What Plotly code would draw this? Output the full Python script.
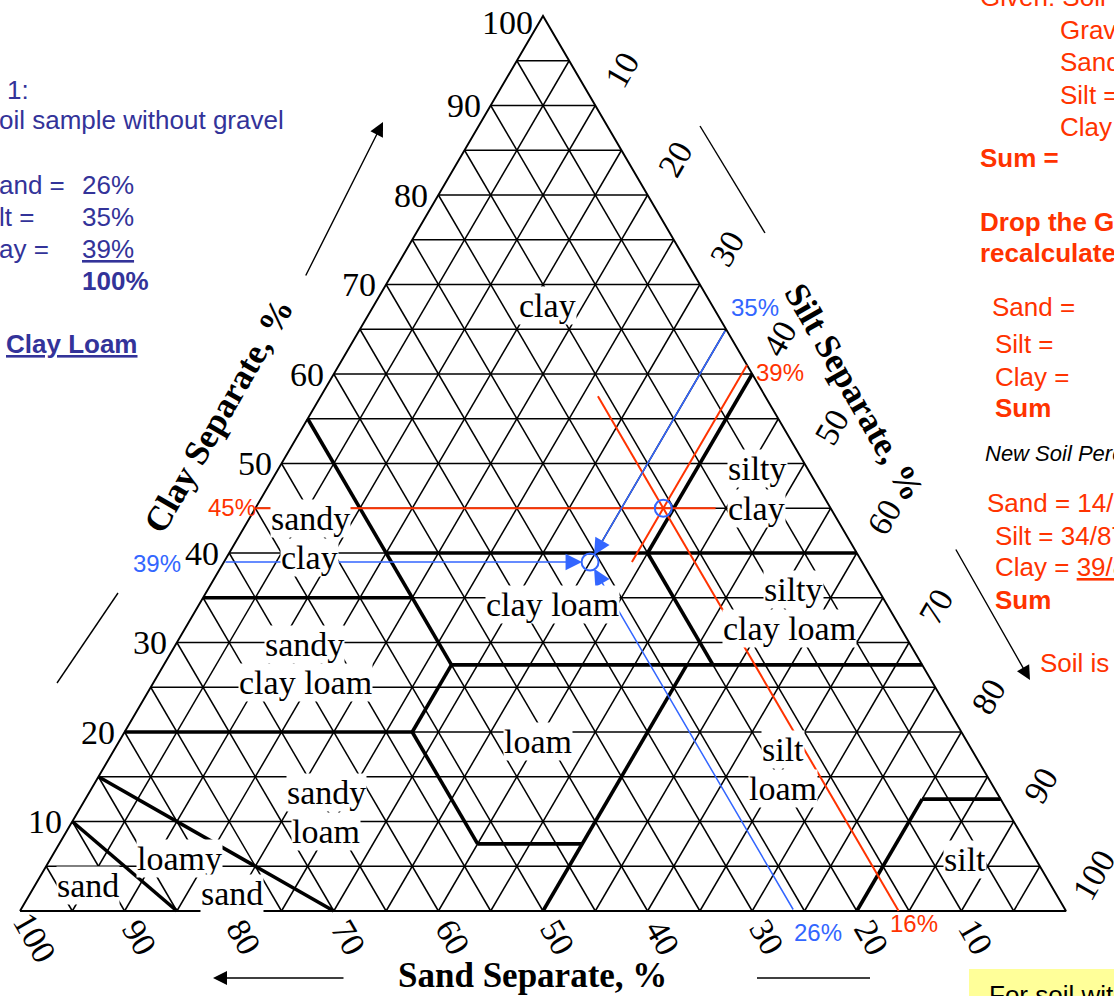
import plotly.graph_objects as go

# ---------------- data ----------------
tick_values = [10, 20, 30, 40, 50, 60, 70, 80, 90, 100]
grid_levels = [5, 10, 15, 20, 25, 30, 35, 40, 45, 50, 55, 60, 65, 70, 75, 80, 85, 90, 95]

# texture-class boundaries, each as a list of (clay %, silt %) vertices
boundary_clay = [[55, 27.5], [40, 40], [40, 60], [35, 35], [27.5, 27.5], [40, 27.5],
                 [27.5, 20], [20, 20], [20, 7.5], [7.5, 7.5], [0, 27.5], [0, 12.5],
                 [12.5, 12.5], [15, 0], [10, 0]]
boundary_silt = [[0, 27.5], [15, 60], [40, 40], [0, 20], [27.5, 72.5], [40, 52.5],
                 [27.5, 27.5], [0, 27.5], [27.5, 40], [40, 50], [50, 50], [80, 80],
                 [80, 87.5], [0, 30], [0, 15]]

# class names and their (clay %, silt %) positions
class_names = ["clay", "sandy", "clay", "silty", "clay", "clay loam", "silty", "clay loam",
               "sandy", "clay loam", "loam", "silt", "loam", "sandy", "loam", "loamy",
               "sand", "sand", "silt"]
class_clay = [67.7, 43.9, 39.55, 49.4, 45.0, 34.2, 35.9, 31.6, 29.8, 25.5, 18.9, 18.1,
              13.7, 13.2, 8.9, 5.9, 2.0, 2.8, 5.7]
class_silt = [16.6, 5.8, 7.9, 45.8, 47.9, 33.8, 56.0, 57.8, 12.3, 14.5, 40.1, 63.9,
              66.1, 22.7, 24.8, 12.3, 19.3, 5.1, 87.5]

# sample without gravel (blue) and gravel-corrected sample (red)
sample = {"sand": 26, "silt": 35, "clay": 39}
corrected = {"sand": 16, "silt": 39, "clay": 45}
red_clay_line_silt_end = 44
red_silt_line_clay_end = 39
red_sand_line_clay_end = 57.5

BLUE = "#3366FF"
RED = "#FF3300"
NAVY = "#333399"
SERIF = "Liberation Serif"
SANS = "Liberation Sans"

W, H = 1114, 996
# pixel placement of the triangle (left vertex x, base y, width, height)
LX, BY, TW, TH = 20.0, 911.0, 1046.0, 895.0


def to_xy(clay, silt):
    return silt + clay / 2.0, clay


def P(px, py):
    return px / W, 1 - py / H


fig = go.Figure()

# ---------------- grid ----------------
gx, gy = [], []
for v in grid_levels:
    for a, b in [((v, 0), (v, 100 - v)),          # constant clay
                 ((0, v), (100 - v, v)),          # constant silt
                 ((0, 100 - v), (100 - v, 0))]:   # constant sand
        x0, y0 = to_xy(*a)
        x1, y1 = to_xy(*b)
        gx += [x0, x1, None]
        gy += [y0, y1, None]
fig.add_trace(go.Scatter(x=gx, y=gy, mode="lines", line=dict(color="black", width=1.5),
                         hoverinfo="skip"))

# outline
ox, oy = zip(*[to_xy(0, 0), to_xy(100, 0), to_xy(0, 100), to_xy(0, 0)])
fig.add_trace(go.Scatter(x=ox, y=oy, mode="lines", line=dict(color="black", width=1.9),
                         hoverinfo="skip"))

# boundaries
bx, by = [], []
for cl, si in zip(boundary_clay, boundary_silt):
    for c, s in zip(cl, si):
        x, y = to_xy(c, s)
        bx.append(x)
        by.append(y)
    bx.append(None)
    by.append(None)
fig.add_trace(go.Scatter(x=bx, y=by, mode="lines", line=dict(color="black", width=3.6),
                         hoverinfo="skip"))

# red construction lines
c, s, d = corrected["clay"], corrected["silt"], corrected["sand"]
rl = [(to_xy(c, 0), to_xy(c, red_clay_line_silt_end)),
      (to_xy(100 - s, s), to_xy(red_silt_line_clay_end, s)),
      (to_xy(0, 100 - d), to_xy(red_sand_line_clay_end, 100 - d - red_sand_line_clay_end))]
rx, ry = [], []
for (a, b) in rl:
    rx += [a[0], b[0], None]
    ry += [a[1], b[1], None]
fig.add_trace(go.Scatter(x=rx, y=ry, mode="lines", line=dict(color=RED, width=2),
                         hoverinfo="skip"))

# points (open circles)
pts = [to_xy(sample["clay"], sample["silt"]), to_xy(corrected["clay"], corrected["silt"])]
fig.add_trace(go.Scatter(x=[p[0] for p in pts], y=[p[1] for p in pts], mode="markers",
                         marker=dict(symbol="circle-open", size=17, color=BLUE,
                                     line=dict(width=2, color=BLUE)),
                         hoverinfo="skip"))

ann = []

# blue arrows from the three axes to the sample point
sp = to_xy(sample["clay"], sample["silt"])
tails = [to_xy(sample["clay"], 0),
         to_xy(100 - sample["silt"], sample["silt"]),
         to_xy(0, 100 - sample["sand"])]
for t in tails:
    ann.append(dict(x=sp[0], y=sp[1], ax=t[0], ay=t[1], xref="x", yref="y", axref="x", ayref="y",
                    text="", showarrow=True, arrowhead=2, arrowsize=2.2, arrowwidth=1.5,
                    arrowcolor=BLUE, standoff=8))

# tick labels
for v in tick_values:
    x, y = to_xy(v, 0)  # clay on left edge
    ann.append(dict(x=x, y=y, xref="x", yref="y", text=str(v), showarrow=False,
                    xanchor="right", yanchor="middle", xshift=-8,
                    yshift=-6 if v == 100 else 0,
                    font=dict(family=SERIF, size=34, color="black")))
    x, y = to_xy(100 - v, v)  # silt on right edge
    ann.append(dict(x=x, y=y, xref="x", yref="y", text=str(v), showarrow=False,
                    xanchor="center", yanchor="middle", xshift=27, yshift=36, textangle=-60,
                    font=dict(family=SERIF, size=34, color="black")))
    x, y = to_xy(0, 100 - v)  # sand on base
    ann.append(dict(x=x, y=y, xref="x", yref="y", text=str(v), showarrow=False,
                    xanchor="center", yanchor="middle", xshift=15, yshift=-26, textangle=60,
                    font=dict(family=SERIF, size=34, color="black")))

# class names
for t, c_, s_ in zip(class_names, class_clay, class_silt):
    x, y = to_xy(c_, s_)
    ann.append(dict(x=x, y=y, xref="x", yref="y", text=t, showarrow=False,
                    xanchor="center", yanchor="middle", bgcolor="white", borderpad=0,
                    font=dict(family=SERIF, size=34, color="black")))

# axis titles
for txt, px, py, ang in [("<b>Clay Separate, %</b>", 218, 416, -60),
                         ("<b>Silt Separate, %</b>", 855, 392, 60),
                         ("<b>Sand Separate, %</b>", 532, 975, 0)]:
    x, y = P(px, py)
    ann.append(dict(x=x, y=y, xref="paper", yref="paper", text=txt, showarrow=False,
                    xanchor="center", yanchor="middle", textangle=ang,
                    font=dict(family=SERIF, size=35, color="black")))

# percent labels near the axes
for txt, px, py, col in [("35%", 755, 307, BLUE), ("39%", 157, 563, BLUE), ("26%", 818, 932, BLUE),
                         ("45%", 232, 507, RED), ("39%", 780, 372, RED), ("16%", 914, 923, RED)]:
    x, y = P(px, py)
    ann.append(dict(x=x, y=y, xref="paper", yref="paper", text=txt, showarrow=False,
                    xanchor="center", yanchor="middle",
                    font=dict(family=SANS, size=24, color=col)))

# black direction arrows
for (hx, hy, tx, ty) in [(383, 122, 305, 277), (1030, 680, 955, 548), (213, 978, 345, 978)]:
    x, y = P(hx, hy)
    ann.append(dict(x=x, y=y, xref="paper", yref="paper", ax=tx - hx, ay=ty - hy, text="",
                    showarrow=True, arrowhead=2, arrowsize=2.0, arrowwidth=1.4,
                    arrowcolor="black"))

shapes = []
for (x0, y0, x1, y1) in [(57, 683, 118, 593), (700, 126, 765, 233), (757, 978, 870, 978)]:
    a = P(x0, y0)
    b = P(x1, y1)
    shapes.append(dict(type="line", xref="paper", yref="paper", x0=a[0], y0=a[1], x1=b[0], y1=b[1],
                       line=dict(color="black", width=1.4)))

# yellow note box
a = P(969, 969)
shapes.append(dict(type="rect", xref="paper", yref="paper", x0=a[0], y0=0, x1=1.01, y1=a[1],
                   fillcolor="#FFFF99", line=dict(width=0)))

# left text block
for txt, px, py in [("1:", 5, 90), ("oil sample without gravel", -3, 120),
                    ("and =", -3, 185), ("26%", 80, 185),
                    ("lt =", -3, 217), ("35%", 80, 217),
                    ("ay =", -3, 249), ("<u>39%</u>", 80, 249),
                    ("<b>100%</b>", 80, 281), ("<b><u>Clay Loam</u></b>", 4, 344)]:
    x, y = P(px, py)
    ann.append(dict(x=x, y=y, xref="paper", yref="paper", text=txt, showarrow=False,
                    xanchor="left", yanchor="middle", font=dict(family=SANS, size=26, color=NAVY)))

# right text block
for txt, px, py, col in [("Given: Soil", 978, -3, RED), ("Gravel =", 1058, 30, RED),
                         ("Sand =", 1058, 62, RED), ("Silt =", 1058, 95, RED),
                         ("Clay =", 1058, 127, RED), ("<b>Sum =</b>", 978, 158, RED),
                         ("<b>Drop the Gravel and</b>", 978, 222, RED),
                         ("<b>recalculate %</b>", 978, 253, RED),
                         ("Sand =", 990, 307, RED), ("Silt =", 993, 344, RED),
                         ("Clay =", 993, 377, RED), ("<b>Sum</b>", 993, 408, RED),
                         ("Sand = 14/87", 985, 503, RED), ("Silt = 34/87", 993, 536, RED),
                         ("Clay = <u>39/87</u>", 993, 567, RED), ("<b>Sum</b>", 993, 600, RED),
                         ("Soil is", 1038, 663, RED), ("For soil with", 987, 995, "black")]:
    x, y = P(px, py)
    ann.append(dict(x=x, y=y, xref="paper", yref="paper", text=txt, showarrow=False,
                    xanchor="left", yanchor="middle", font=dict(family=SANS, size=26, color=col)))
x, y = P(983, 453)
ann.append(dict(x=x, y=y, xref="paper", yref="paper", text="<i>New Soil Percentages</i>",
                showarrow=False, xanchor="left", yanchor="middle",
                font=dict(family=SANS, size=22, color="black")))

fig.update_layout(
    width=W, height=H, margin=dict(l=0, r=0, t=0, b=0),
    paper_bgcolor="white", plot_bgcolor="white", showlegend=False,
    xaxis=dict(visible=False, range=[-LX / (TW / 100), (W - LX) / (TW / 100)]),
    yaxis=dict(visible=False, range=[-(H - BY) / (TH / 100), BY / (TH / 100)]),
    annotations=ann, shapes=shapes,
)
fig.write_html("out.html", config={"displayModeBar": False},
               post_script="document.body.style.margin='0';document.body.style.overflow='hidden';")
